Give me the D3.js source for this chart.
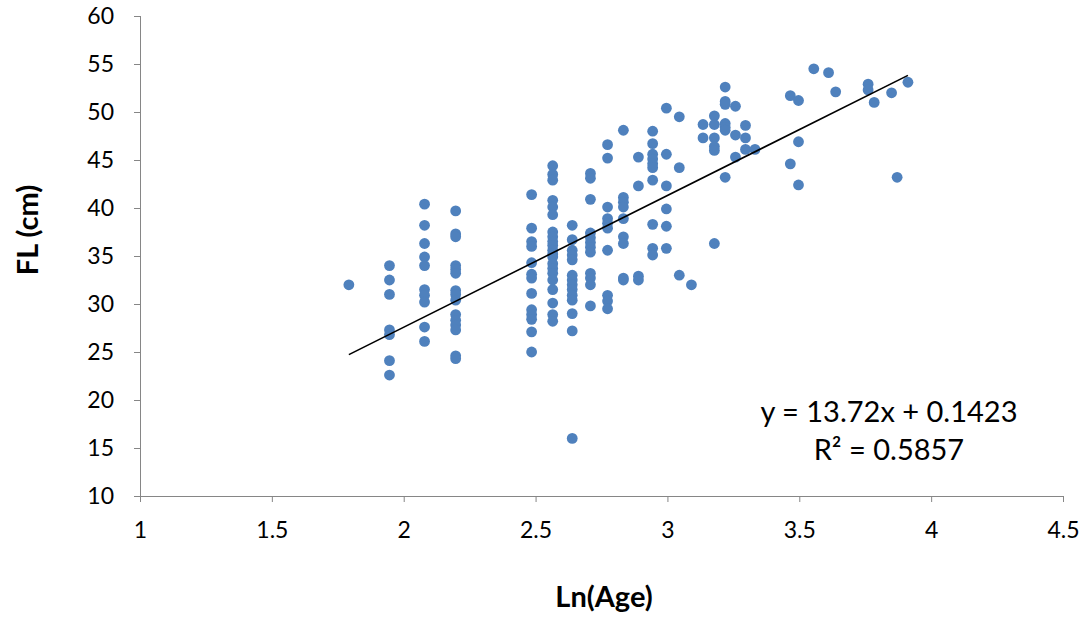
<!DOCTYPE html>
<html>
<head>
<meta charset="utf-8">
<script src="https://cdn.jsdelivr.net/npm/d3@7"></script>
<style>
  body { margin: 0; background: #fff; }
  .domain, .tick line { stroke: #868686; }
</style>
</head>
<body>
<div id="chart"></div>
<script>
// ln(age) columns and the fork lengths (cm) plotted at each one
var lnAge = [1.792, 1.946, 2.079, 2.197, 2.485, 2.565, 2.639, 2.708, 2.773, 2.833,
  2.890, 2.944, 2.996, 3.045, 3.091, 3.135, 3.178, 3.219, 3.258, 3.296, 3.332,
  3.466, 3.497, 3.555, 3.611, 3.638, 3.761, 3.784, 3.850, 3.871, 3.912];

var flValues = [
  [32.0],
  [34.0, 32.5, 31.0, 27.3, 26.8, 24.1, 22.6],
  [40.4, 38.2, 36.3, 34.9, 34.0, 31.5, 30.9, 30.2, 27.6, 26.1],
  [39.7, 37.3, 37.0, 34.0, 33.6, 33.2, 31.4, 31.0, 30.4, 28.9, 28.3, 27.8, 27.3, 24.6, 24.3],
  [41.4, 37.9, 36.5, 36.0, 34.3, 33.1, 32.7, 31.1, 29.4, 28.9, 28.4, 27.1, 25.0],
  [44.4, 43.5, 42.9, 40.8, 40.1, 39.3, 37.5, 37.0, 36.5, 36.1, 35.6, 35.2, 34.9, 34.2, 33.7, 33.2, 32.5, 31.5, 30.1, 28.9, 28.2],
  [38.2, 36.7, 35.6, 35.1, 34.6, 33.0, 32.5, 32.0, 31.5, 30.9, 30.4, 29.0, 27.2, 16.0],
  [43.6, 43.1, 40.9, 37.4, 36.9, 36.4, 35.9, 35.4, 33.2, 32.7, 32.0, 29.8],
  [46.6, 45.2, 40.1, 38.9, 38.4, 37.9, 35.6, 30.9, 30.3, 29.5],
  [48.1, 41.1, 40.6, 40.1, 38.9, 37.0, 36.3, 32.7, 32.5],
  [45.3, 42.3, 32.9, 32.5],
  [48.0, 46.7, 45.6, 45.1, 44.6, 44.2, 42.9, 38.3, 35.8, 35.1],
  [50.4, 45.6, 42.3, 39.9, 38.1, 35.8],
  [49.5, 44.2, 33.0],
  [32.0],
  [48.7, 47.3],
  [49.6, 48.7, 47.3, 46.4, 46.0, 36.3],
  [52.6, 51.1, 50.8, 48.8, 48.4, 48.1, 43.2],
  [50.6, 47.6, 45.3],
  [48.6, 47.3, 46.1],
  [46.1],
  [51.7, 44.6],
  [51.2, 46.9, 42.4],
  [54.5],
  [54.1],
  [52.1],
  [52.9, 52.3],
  [51.0],
  [52.0],
  [43.2],
  [53.1]
];

var xTicks = [1, 1.5, 2, 2.5, 3, 3.5, 4, 4.5];
var yTicks = [10, 15, 20, 25, 30, 35, 40, 45, 50, 55, 60];

// trendline y = 13.72x + 0.1423
var slope = 13.72;
var intercept = 0.1423;
var r2 = 0.5857;

var svgWidth = 1089;
var svgHeight = 617;

var margin = { top: 16, right: 26, bottom: 121, left: 140 };
var width = svgWidth - margin.left - margin.right;
var height = svgHeight - margin.top - margin.bottom;

var svg = d3.select("#chart")
  .append("svg")
  .attr("width", svgWidth)
  .attr("height", svgHeight);

var chartGroup = svg.append("g")
  .attr("transform", `translate(${margin.left}, ${margin.top})`);

var x = d3.scaleLinear().domain([1, 4.5]).range([0, width]);
var y = d3.scaleLinear().domain([10, 60]).range([height, 0]);

// flatten into points
var points = [];
lnAge.forEach(function(a, i) {
  flValues[i].forEach(function(v) {
    points.push({ x: a, y: v });
  });
});

function styleTicks(g) {
  g.attr("font-family", "Lato, 'Open Sans', sans-serif")
    .attr("font-size", 23);
  g.selectAll(".tick text").attr("fill", "#000");
}

// axes
chartGroup.append("g")
  .attr("transform", `translate(0, ${height})`)
  .call(d3.axisBottom(x).tickValues(xTicks).tickSize(6).tickPadding(20).tickFormat(d3.format("")))
  .call(g => g.select(".domain").attr("d", `M0.5,0.5H${width}`))
  .call(styleTicks);

chartGroup.append("g")
  .call(d3.axisLeft(y).tickValues(yTicks).tickSize(6).tickPadding(20))
  .call(g => g.select(".domain").attr("d", `M0.5,0V${height + 6}`))
  .call(styleTicks);

// points
chartGroup.selectAll("circle")
  .data(points)
  .enter()
  .append("circle")
  .attr("cx", d => x(d.x))
  .attr("cy", d => y(d.y))
  .attr("r", 5.4)
  .attr("fill", "#4F81BD");

// trendline over the data range
var xMin = d3.min(lnAge), xMax = d3.max(lnAge);
chartGroup.append("line")
  .attr("x1", x(xMin))
  .attr("y1", y(slope * xMin + intercept))
  .attr("x2", x(xMax))
  .attr("y2", y(slope * xMax + intercept))
  .attr("stroke", "#000")
  .attr("stroke-width", 1.6);

// equation label
var eq = chartGroup.append("g")
  .attr("font-family", "Lato, 'Open Sans', sans-serif")
  .attr("font-size", 29)
  .attr("text-anchor", "middle");
eq.append("text")
  .attr("x", x(3.84))
  .attr("y", y(17.7))
  .text(`y = ${slope}x + ${intercept}`);
eq.append("text")
  .attr("x", x(3.84))
  .attr("y", y(13.7))
  .text(`R² = ${r2}`);

// axis titles
svg.append("text")
  .attr("x", 604)
  .attr("y", 607)
  .attr("text-anchor", "middle")
  .attr("font-family", "Lato, 'Open Sans', sans-serif")
  .attr("font-weight", "bold")
  .attr("font-size", 29)
  .text("Ln(Age)");

svg.append("text")
  .attr("transform", "translate(38, 230) rotate(-90)")
  .attr("text-anchor", "middle")
  .attr("font-family", "Lato, 'Open Sans', sans-serif")
  .attr("font-weight", "bold")
  .attr("font-size", 29)
  .text("FL (cm)");
</script>
</body>
</html>
